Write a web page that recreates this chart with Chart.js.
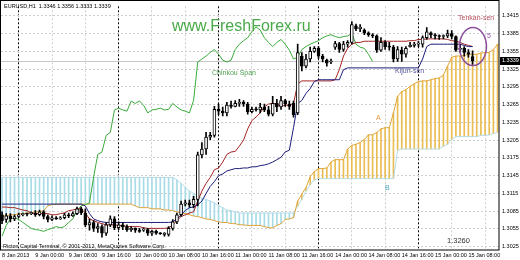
<!DOCTYPE html>
<html>
<head>
<meta charset="utf-8">
<script src="https://cdn.jsdelivr.net/npm/chart.js@4.4.1/dist/chart.umd.min.js"></script>
<style>
  html, body { margin: 0; padding: 0; background: #fff; }
</style>
</head>
<body>
<canvas id="chart" width="520" height="260"></canvas>
<script>
// EURUSD H1, one entry per hourly bar (bar 0 = 8 Jan 2013 16:00)
const open = [1.3079,1.3071,1.3077,1.3072,1.3076,1.3079,1.3081,1.3081,1.3082,1.3079,
  1.3084,1.3076,1.3071,1.3074,1.3072,1.3074,1.3079,1.3077,1.3081,1.3089,
  1.3082,1.3062,1.3066,1.3056,1.3059,1.3048,1.3062,1.3072,1.3057,1.3062,
  1.3059,1.3054,1.3056,1.3053,1.3053,1.3054,1.3048,1.3051,1.3048,1.3046,
  1.3046,1.3056,1.3067,1.3079,1.3097,1.3099,1.3096,1.3105,1.3180,1.3190,
  1.3210,1.3213,1.3257,1.3254,1.3251,1.3264,1.3262,1.3267,1.3269,1.3266,
  1.3253,1.3257,1.3256,1.3261,1.3256,1.3249,1.3267,1.3261,1.3272,1.3266,
  1.3267,1.3251,1.3347,1.3330,1.3342,1.3355,1.3360,1.3347,1.3340,1.3337,
  1.3362,1.3368,1.3358,1.3367,1.3370,1.3398,1.3393,1.3391,1.3386,1.3383,
  1.3381,1.3357,1.3370,1.3363,1.3362,1.3342,1.3357,1.3350,1.3363,1.3365,
  1.3367,1.3367,1.3378,1.3386,1.3383,1.3381,1.3380,1.3381,1.3385,1.3380,
  1.3358,1.3360,1.3353,1.3346];
const high = [1.3084,1.3081,1.3081,1.3079,1.3082,1.3082,1.3082,1.3084,1.3086,1.3087,
  1.3086,1.3079,1.3077,1.3076,1.3076,1.3082,1.3082,1.3084,1.3092,1.3092,
  1.3089,1.3072,1.3069,1.3064,1.3062,1.3066,1.3077,1.3076,1.3067,1.3066,
  1.3062,1.3059,1.3057,1.3056,1.3057,1.3056,1.3053,1.3053,1.3049,1.3049,
  1.3059,1.3071,1.3082,1.3102,1.3104,1.3104,1.3110,1.3185,1.3201,1.3218,
  1.3218,1.3262,1.3266,1.3261,1.3269,1.3271,1.3272,1.3274,1.3272,1.3269,
  1.3261,1.3261,1.3267,1.3266,1.3262,1.3279,1.3274,1.3279,1.3274,1.3271,
  1.3271,1.3367,1.3353,1.3350,1.3362,1.3363,1.3363,1.3350,1.3342,1.3342,
  1.3372,1.3370,1.3372,1.3373,1.3405,1.3401,1.3400,1.3393,1.3388,1.3385,
  1.3383,1.3378,1.3373,1.3370,1.3365,1.3363,1.3362,1.3363,1.3370,1.3370,
  1.3372,1.3381,1.3395,1.3388,1.3385,1.3383,1.3383,1.3391,1.3390,1.3381,
  1.3367,1.3363,1.3358,1.3356];
const low = [1.3064,1.3066,1.3067,1.3069,1.3074,1.3077,1.3077,1.3079,1.3076,1.3077,
  1.3072,1.3067,1.3069,1.3071,1.3071,1.3072,1.3074,1.3076,1.3079,1.3079,
  1.3059,1.3053,1.3051,1.3049,1.3041,1.3044,1.3059,1.3054,1.3054,1.3054,
  1.3051,1.3051,1.3049,1.3049,1.3051,1.3044,1.3044,1.3046,1.3046,1.3043,
  1.3043,1.3053,1.3064,1.3076,1.3094,1.3092,1.3091,1.3094,1.3175,1.3181,
  1.3206,1.3210,1.3248,1.3246,1.3246,1.3259,1.3261,1.3262,1.3262,1.3249,
  1.3251,1.3254,1.3251,1.3253,1.3246,1.3246,1.3253,1.3257,1.3262,1.3257,
  1.3244,1.3248,1.3322,1.3327,1.3337,1.3353,1.3343,1.3337,1.3330,1.3334,
  1.3358,1.3353,1.3355,1.3362,1.3367,1.3390,1.3388,1.3383,1.3380,1.3378,
  1.3353,1.3355,1.3358,1.3357,1.3337,1.3338,1.3338,1.3345,1.3362,1.3362,
  1.3363,1.3362,1.3375,1.3378,1.3376,1.3375,1.3376,1.3378,1.3376,1.3355,
  1.3353,1.3347,1.3345,1.3333];
const close = [1.3069,1.3077,1.3072,1.3076,1.3079,1.3081,1.3080,1.3082,1.3079,1.3084,
  1.3076,1.3071,1.3074,1.3072,1.3074,1.3079,1.3077,1.3081,1.3089,1.3082,
  1.3062,1.3066,1.3056,1.3059,1.3048,1.3062,1.3072,1.3057,1.3062,1.3059,
  1.3054,1.3056,1.3053,1.3051,1.3054,1.3048,1.3051,1.3048,1.3047,1.3048,
  1.3056,1.3067,1.3079,1.3097,1.3099,1.3096,1.3105,1.3180,1.3190,1.3210,
  1.3213,1.3257,1.3254,1.3251,1.3264,1.3262,1.3267,1.3269,1.3266,1.3253,
  1.3257,1.3256,1.3261,1.3256,1.3249,1.3267,1.3261,1.3272,1.3266,1.3262,
  1.3248,1.3353,1.3330,1.3342,1.3355,1.3360,1.3347,1.3342,1.3335,1.3338,
  1.3368,1.3358,1.3367,1.3370,1.3400,1.3393,1.3396,1.3386,1.3383,1.3381,
  1.3357,1.3370,1.3363,1.3362,1.3342,1.3358,1.3350,1.3360,1.3365,1.3367,
  1.3368,1.3378,1.3388,1.3383,1.3381,1.3380,1.3381,1.3385,1.3380,1.3357,
  1.3360,1.3353,1.3350,1.3339];

const tenkan = [1.3092,1.3092,1.3091,1.3091,1.3089,1.3087,1.3086,1.3082,1.3081,1.3081,
  1.3081,1.3081,1.3079,1.3079,1.3081,1.3082,1.3086,1.3087,1.3089,1.3089,
  1.3082,1.3072,1.3069,1.3066,1.3064,1.3062,1.3062,1.3062,1.3061,1.3061,
  1.3059,1.3059,1.3059,1.3059,1.3057,1.3056,1.3056,1.3056,1.3056,1.3056,
  1.3057,1.3062,1.3069,1.3076,1.3079,1.3082,1.3084,1.3102,1.3119,1.3132,
  1.3142,1.3155,1.3158,1.3168,1.3181,1.3185,1.3186,1.3195,1.3205,1.3224,
  1.3238,1.3244,1.3251,1.3261,1.3266,1.3267,1.3266,1.3262,1.3264,1.3264,
  1.3267,1.3300,1.3305,1.3305,1.3305,1.3305,1.3305,1.3305,1.3305,1.3305,
  1.3307,1.3324,1.3347,1.3360,1.3367,1.3370,1.3370,1.3372,1.3372,1.3372,
  1.3372,1.3372,1.3372,1.3372,1.3372,1.3372,1.3372,1.3372,1.3373,1.3373,
  1.3375,1.3375,1.3376,1.3376,1.3376,1.3376,1.3376,1.3375,1.3373,1.3372,
  1.3370,1.3367,1.3365,1.3363];
const kijun = [1.3097,1.3097,1.3097,1.3097,1.3097,1.3097,1.3097,1.3097,1.3097,1.3097,
  1.3097,1.3097,1.3097,1.3097,1.3097,1.3097,1.3097,1.3097,1.3097,1.3097,
  1.3094,1.3081,1.3072,1.3069,1.3067,1.3066,1.3066,1.3066,1.3066,1.3066,
  1.3066,1.3066,1.3066,1.3066,1.3066,1.3066,1.3066,1.3066,1.3066,1.3066,
  1.3066,1.3067,1.3072,1.3079,1.3086,1.3091,1.3092,1.3096,1.3102,1.3115,
  1.3127,1.3135,1.3145,1.3148,1.3153,1.3155,1.3157,1.3157,1.3158,1.3158,
  1.3160,1.3160,1.3162,1.3163,1.3165,1.3168,1.3172,1.3176,1.3185,1.3188,
  1.3226,1.3267,1.3272,1.3284,1.3292,1.3304,1.3307,1.3307,1.3307,1.3307,
  1.3307,1.3307,1.3324,1.3327,1.3327,1.3327,1.3327,1.3327,1.3327,1.3327,
  1.3327,1.3327,1.3327,1.3327,1.3327,1.3327,1.3327,1.3327,1.3327,1.3327,
  1.3327,1.3342,1.3363,1.3367,1.3367,1.3367,1.3367,1.3367,1.3367,1.3367,
  1.3367,1.3365,1.3363,1.3363];
const chinkou = [1.3043,1.3061,1.3072,1.3074,1.3071,1.3066,1.3061,1.3056,1.3054,1.3053,
  1.3051,1.3054,1.3056,1.3059,1.3057,1.3059,1.3066,1.3072,1.3086,1.3094,
  1.3096,1.3099,1.3143,1.3181,1.3185,1.3213,1.3218,1.3256,1.3259,1.3256,
  1.3254,1.3271,1.3267,1.3271,1.3264,1.3251,1.3256,1.3257,1.3259,1.3256,
  1.3257,1.3267,1.3261,1.3256,1.3254,1.3251,1.3272,1.3337,1.3342,1.3347,
  1.3353,1.3358,1.3350,1.3340,1.3337,1.3340,1.3358,1.3367,1.3373,1.3378,
  1.3388,1.3396,1.3391,1.3378,1.3370,1.3363,1.3370,1.3375,1.3367,1.3357,
  1.3342,1.3345,1.3358,1.3363,1.3367,1.3370,1.3373,1.3378,1.3381,1.3383,
  1.3380,1.3378,1.3380,1.3381,1.3385,1.3367,1.3362,1.3360,1.3350,1.3338];
const spanA = [1.3077,1.3077,1.3079,1.3079,1.3081,1.3081,1.3082,1.3082,1.3084,1.3084,
  1.3086,1.3094,1.3096,1.3097,1.3097,1.3097,1.3097,1.3097,1.3097,1.3097,
  1.3097,1.3097,1.3097,1.3097,1.3097,1.3097,1.3097,1.3097,1.3097,1.3097,
  1.3097,1.3097,1.3094,1.3091,1.3091,1.3091,1.3089,1.3089,1.3089,1.3087,
  1.3087,1.3086,1.3084,1.3082,1.3081,1.3079,1.3077,1.3076,1.3074,1.3072,
  1.3071,1.3069,1.3067,1.3066,1.3066,1.3064,1.3064,1.3062,1.3062,1.3061,
  1.3061,1.3061,1.3061,1.3059,1.3057,1.3057,1.3061,1.3064,1.3071,1.3072,
  1.3074,1.3102,1.3114,1.3125,1.3143,1.3152,1.3157,1.3157,1.3158,1.3168,
  1.3172,1.3172,1.3172,1.3190,1.3196,1.3198,1.3201,1.3206,1.3214,1.3214,
  1.3218,1.3224,1.3226,1.3226,1.3251,1.3279,1.3287,1.3290,1.3296,1.3300,
  1.3304,1.3305,1.3305,1.3307,1.3309,1.3310,1.3315,1.3330,1.3345,1.3347,
  1.3347,1.3348,1.3350,1.3350,1.3350,1.3352,1.3353,1.3353,1.3358,1.3367];
const spanB = [1.3142,1.3142,1.3142,1.3142,1.3142,1.3142,1.3142,1.3142,1.3142,1.3142,
  1.3142,1.3142,1.3142,1.3142,1.3142,1.3142,1.3142,1.3142,1.3142,1.3142,
  1.3142,1.3142,1.3142,1.3142,1.3142,1.3142,1.3142,1.3142,1.3142,1.3142,
  1.3142,1.3142,1.3142,1.3142,1.3142,1.3142,1.3142,1.3142,1.3142,1.3142,
  1.3142,1.3142,1.3138,1.3132,1.3125,1.3119,1.3115,1.3110,1.3107,1.3105,
  1.3102,1.3099,1.3094,1.3091,1.3087,1.3086,1.3084,1.3082,1.3082,1.3082,
  1.3082,1.3082,1.3082,1.3082,1.3082,1.3082,1.3082,1.3082,1.3082,1.3082,
  1.3082,1.3094,1.3105,1.3119,1.3130,1.3138,1.3140,1.3140,1.3140,1.3140,
  1.3140,1.3140,1.3140,1.3140,1.3140,1.3140,1.3140,1.3140,1.3140,1.3140,
  1.3140,1.3140,1.3140,1.3140,1.3140,1.3188,1.3190,1.3190,1.3190,1.3190,
  1.3190,1.3190,1.3190,1.3190,1.3190,1.3190,1.3195,1.3198,1.3206,1.3211,
  1.3211,1.3211,1.3211,1.3211,1.3211,1.3213,1.3213,1.3214,1.3216,1.3218];

const timeLabels = ['8 Jan 2013','9 Jan 00:00','9 Jan 08:00','9 Jan 16:00','10 Jan 00:00',
  '10 Jan 08:00','10 Jan 16:00','11 Jan 00:00','11 Jan 08:00','11 Jan 16:00',
  '14 Jan 00:00','14 Jan 08:00','14 Jan 16:00','15 Jan 00:00','15 Jan 08:00'];
const timeLabelBars = [0,8,16,24,32,40,48,56,64,72,80,88,96,104,112];
const daySeparatorBars = [8,32,56,80,104];
const priceTicks = [1.3025,1.3055,1.3085,1.3115,1.3145,1.3175,1.3205,1.3235,
  1.3265,1.3295,1.3325,1.3355,1.3385,1.3415];

const FONT = 'Liberation Sans, Arial, sans-serif';
const pts = (arr) => arr.map((v, i) => ({ x: i, y: v }));

const overlay = {
  id: 'overlay',
  beforeDatasetsDraw(chart) {
    // bid line
    const { ctx, chartArea: a, scales: { y } } = chart;
    const py = Math.round(y.getPixelForValue(close[close.length - 1])) + 0.5;
    ctx.save();
    ctx.strokeStyle = '#c8c8c8';
    ctx.lineWidth = 1;
    ctx.beginPath();
    ctx.moveTo(a.left, py);
    ctx.lineTo(a.right, py);
    ctx.stroke();
    ctx.restore();
  },
  afterDraw(chart) {
    const { ctx, chartArea: a, scales: { x, y } } = chart;
    const last = close[close.length - 1];
    ctx.save();

    // frame
    ctx.strokeStyle = '#000';
    ctx.lineWidth = 1;
    ctx.strokeRect(0.5, 0.5, a.right - 0.5, a.bottom - 0.5);

    // current price box
    const py = y.getPixelForValue(last);
    ctx.fillStyle = '#000';
    ctx.fillRect(a.right + 1, Math.round(py) - 4, 20, 8);
    ctx.fillStyle = '#fff';
    ctx.font = '5.5px ' + FONT;
    ctx.textBaseline = 'middle';
    ctx.fillText(last.toFixed(4), a.right + 3, py);

    // header and footer
    ctx.fillStyle = '#000';
    ctx.fillText('EURUSD,H1  ' + [open, high, low, close].map(s => s[s.length - 1].toFixed(4)).join(' '), 4, 6);
    ctx.fillText('Ricton Capital Terminal, \u00a9 2001-2012, MetaQuotes Software Corp.', 3, 246.5);

    // annotations
    ctx.textBaseline = 'alphabetic';
    ctx.fillStyle = '#49a949';
    ctx.font = '16px ' + FONT;
    ctx.fillText('www.FreshForex.ru', 172, 31);
    ctx.font = '7px ' + FONT;
    ctx.fillStyle = '#4e9e4e';
    ctx.fillText('Chinkou Span', 212, 75);
    ctx.fillStyle = '#b5505e';
    ctx.fillText('Tenkan-sen', 458, 20);
    ctx.fillStyle = '#55559a';
    ctx.fillText('Kijun-sen', 395, 73);
    ctx.fillStyle = '#e39a3a';
    ctx.fillText('A', 376, 120);
    ctx.fillStyle = '#4aa3bb';
    ctx.fillText('B', 385, 190);
    ctx.fillStyle = '#9a5aa8';
    ctx.fillText('5', 487, 38);
    ctx.fillStyle = '#333';
    ctx.font = '7.5px ' + FONT;
    ctx.fillText('1.3260', 447, 243);

    // circle around the last bars
    ctx.strokeStyle = '#8b4f9b';
    ctx.lineWidth = 1.5;
    ctx.beginPath();
    ctx.ellipse(x.getPixelForValue(113.1), y.getPixelForValue(1.3363), 13.5, 19, 0, 0, Math.PI * 2);
    ctx.stroke();
    ctx.restore();
  }
};

new Chart(document.getElementById('chart'), {
  type: 'bar',
  data: {
    datasets: [
      {
        type: 'bar',
        data: spanA.map((v, i) => ({ x: i, y: [v, spanB[i]] })),
        backgroundColor: spanA.map((v, i) => (v >= spanB[i] ? '#e9bd52' : '#a9dbe6')),
        barThickness: 1,
        grouped: false,
        order: 10,
      },
      { type: 'line', data: pts(spanB), borderColor: '#b5dde8', borderWidth: 1, pointRadius: 0, order: 9 },
      { type: 'line', data: pts(spanA), borderColor: '#e0a53a', borderWidth: 1, pointRadius: 0, order: 8 },
      { type: 'line', data: pts(chinkou), borderColor: '#3aaa3a', borderWidth: 1, pointRadius: 0, order: 5 },
      { type: 'line', data: pts(tenkan), borderColor: '#a52424', borderWidth: 1, pointRadius: 0, order: 4 },
      { type: 'line', data: pts(kijun), borderColor: '#1c1c7a', borderWidth: 1, pointRadius: 0, order: 3 },
      {
        type: 'bar',
        data: low.map((v, i) => ({ x: i, y: [v, high[i]] })),
        backgroundColor: '#000',
        barThickness: 1,
        grouped: false,
        order: 2,
      },
      {
        type: 'bar',
        data: open.map((v, i) => ({ x: i, y: [v, close[i]] })),
        backgroundColor: open.map((v, i) => (close[i] >= v ? '#fff' : '#000')),
        borderColor: '#000',
        borderWidth: 1,
        borderSkipped: false,
        minBarLength: 1,
        barThickness: 3,
        grouped: false,
        order: 1,
      },
    ],
  },
  options: {
    responsive: false,
    animation: false,
    events: [],
    layout: { padding: { left: 1, top: 1, right: 0, bottom: 0 } },
    plugins: { legend: { display: false }, tooltip: { enabled: false } },
    elements: { line: { tension: 0 } },
    scales: {
      x: {
        type: 'linear',
        min: -0.25,
        max: 119.35,
        offset: false,
        afterBuildTicks: (s) => { s.ticks = timeLabelBars.map((v) => ({ value: v })); },
        afterFit: (s) => { s.height = 10; },
        grid: {
          drawTicks: false,
          color: (c) => (c.tick && daySeparatorBars.includes(c.tick.value) ? '#000' : '#cfcfcf'),
        },
        border: { display: false, dash: [2, 2] },
        ticks: {
          autoSkip: false,
          maxRotation: 0,
          minRotation: 0,
          align: 'start',
          padding: 2,
          color: '#000',
          font: { family: FONT, size: 5.5 },
          callback: (v, i) => timeLabels[i],
        },
      },
      y: {
        type: 'linear',
        position: 'right',
        min: 1.30195,
        max: 1.34310,
        afterBuildTicks: (s) => { s.ticks = priceTicks.map((v) => ({ value: v })); },
        afterFit: (s) => { s.width = 21; },
        grid: { drawTicks: false, color: '#cfcfcf' },
        border: { display: false, dash: [2, 2] },
        ticks: {
          padding: 3,
          color: '#000',
          font: { family: FONT, size: 5.5 },
          callback: (v) => v.toFixed(4),
        },
      },
    },
  },
  plugins: [overlay],
});
</script>
</body>
</html>
